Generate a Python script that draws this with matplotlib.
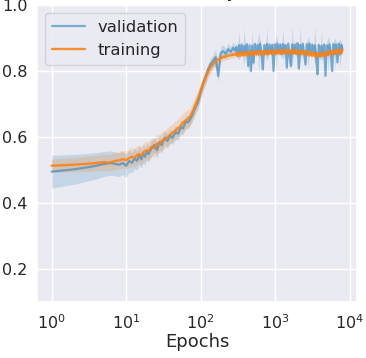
import matplotlib
matplotlib.use('Agg')
import matplotlib.pyplot as plt
import seaborn as sns
import numpy as np

# ---------------- data ----------------
epochs_early = [1, 2, 3, 4, 5, 6, 7, 8, 9, 10, 11, 12, 13, 14, 15, 16, 17, 18, 19, 20,
                22, 24, 26, 28, 30, 33, 36, 39, 42, 46, 50, 54, 58, 63, 68, 73, 79, 85, 92, 100,
                108, 117, 126, 136, 147, 159, 172, 186, 201, 217, 234, 253, 273, 290]
epochs_late = [300, 313, 326, 340, 354, 369, 384, 400, 417, 435, 453, 472, 492, 513, 534, 557,
               580, 604, 630, 656, 684, 713, 743, 774, 806, 840, 875, 912, 950, 990, 1032, 1075,
               1120, 1167, 1216, 1267, 1320, 1376, 1434, 1494, 1557, 1622, 1690, 1761, 1835, 1912,
               1992, 2076, 2163, 2254, 2349, 2448, 2551, 2658, 2770, 2886, 3007, 3133, 3265, 3402,
               3545, 3694, 3849, 4011, 4179, 4355, 4538, 4729, 4928, 5135, 5351, 5576, 5810, 6054,
               6308, 6573, 6849, 7137, 7437, 7750, 8000]

val_early = [0.495, 0.502, 0.508, 0.513, 0.518, 0.521, 0.519, 0.516, 0.521, 0.513,
             0.527, 0.522, 0.535, 0.528, 0.545, 0.532, 0.549, 0.540, 0.556, 0.548,
             0.566, 0.576, 0.560, 0.584, 0.575, 0.598, 0.588, 0.604, 0.597, 0.615,
             0.610, 0.630, 0.626, 0.646, 0.645, 0.655, 0.672, 0.690, 0.705, 0.735,
             0.762, 0.782, 0.805, 0.820, 0.830, 0.842, 0.785, 0.855, 0.860, 0.852,
             0.866, 0.858, 0.870, 0.862]
val_late = [0.872, 0.852, 0.878, 0.855, 0.880, 0.850, 0.876, 0.858, 0.881, 0.815,
            0.878, 0.800, 0.877, 0.825, 0.882, 0.853, 0.879, 0.856, 0.883, 0.850,
            0.805, 0.878, 0.855, 0.882, 0.852, 0.880, 0.857, 0.879, 0.800, 0.881,
            0.853, 0.883, 0.856, 0.880, 0.851, 0.882, 0.855, 0.879, 0.810, 0.883,
            0.850, 0.815, 0.881, 0.854, 0.880, 0.852, 0.884, 0.808, 0.879, 0.856,
            0.882, 0.852, 0.820, 0.881, 0.854, 0.883, 0.850, 0.880, 0.855, 0.878,
            0.847, 0.790, 0.879, 0.845, 0.877, 0.848, 0.880, 0.785, 0.878, 0.850,
            0.881, 0.853, 0.800, 0.882, 0.851, 0.880, 0.826, 0.883, 0.850, 0.879,
            0.866]

val_std_early = [0.050, 0.045, 0.042, 0.040, 0.038, 0.037, 0.036, 0.036, 0.035, 0.035,
                 0.034, 0.030, 0.032, 0.028, 0.030, 0.026, 0.028, 0.025, 0.026, 0.024,
                 0.024, 0.022, 0.025, 0.022, 0.024, 0.020, 0.022, 0.020, 0.021, 0.020,
                 0.020, 0.019, 0.020, 0.018, 0.020, 0.018, 0.018, 0.020, 0.018, 0.020,
                 0.018, 0.020, 0.018, 0.020, 0.018, 0.025, 0.020, 0.018, 0.020, 0.015,
                 0.018, 0.015, 0.018, 0.015]
val_std_late = [0.012, 0.010, 0.045, 0.010, 0.012, 0.010, 0.055, 0.010, 0.012, 0.010,
                0.012, 0.010, 0.050, 0.010, 0.012, 0.010, 0.012, 0.060, 0.012, 0.010,
                0.012, 0.010, 0.012, 0.050, 0.012, 0.010, 0.012, 0.010, 0.012, 0.010,
                0.055, 0.010, 0.012, 0.010, 0.012, 0.045, 0.012, 0.010, 0.012, 0.010,
                0.012, 0.010, 0.060, 0.010, 0.012, 0.010, 0.012, 0.010, 0.055, 0.010,
                0.012, 0.010, 0.012, 0.010, 0.050, 0.010, 0.012, 0.010, 0.012, 0.060,
                0.012, 0.010, 0.012, 0.010, 0.045, 0.010, 0.012, 0.010, 0.012, 0.055,
                0.012, 0.010, 0.012, 0.010, 0.050, 0.010, 0.012, 0.010, 0.045, 0.010,
                0.012]

train_early = [0.513, 0.516, 0.519, 0.521, 0.524, 0.522, 0.527, 0.529, 0.533, 0.530,
               0.536, 0.540, 0.537, 0.545, 0.548, 0.543, 0.553, 0.557, 0.560, 0.558,
               0.570, 0.566, 0.580, 0.578, 0.588, 0.592, 0.600, 0.606, 0.613, 0.620,
               0.627, 0.634, 0.644, 0.650, 0.656, 0.664, 0.680, 0.697, 0.716, 0.740,
               0.762, 0.781, 0.798, 0.811, 0.821, 0.829, 0.835, 0.839, 0.842, 0.844,
               0.846, 0.848, 0.849, 0.850]
train_late = [0.854, 0.845, 0.855, 0.846, 0.857, 0.847, 0.856, 0.848, 0.858, 0.847,
              0.859, 0.849, 0.858, 0.848, 0.860, 0.850, 0.859, 0.849, 0.861, 0.850,
              0.860, 0.851, 0.862, 0.850, 0.861, 0.852, 0.862, 0.851, 0.863, 0.852,
              0.862, 0.853, 0.863, 0.852, 0.864, 0.853, 0.863, 0.854, 0.864, 0.853,
              0.863, 0.853, 0.864, 0.854, 0.863, 0.852, 0.862, 0.853, 0.863, 0.851,
              0.861, 0.850, 0.860, 0.849, 0.859, 0.847, 0.857, 0.846, 0.856, 0.845,
              0.855, 0.844, 0.854, 0.844, 0.855, 0.845, 0.856, 0.846, 0.858, 0.848,
              0.860, 0.850, 0.862, 0.852, 0.863, 0.853, 0.864, 0.853, 0.865, 0.854,
              0.864]

train_std_early = [0.020, 0.022, 0.023, 0.024, 0.025, 0.025, 0.026, 0.026, 0.027, 0.027,
                   0.028, 0.028, 0.028, 0.028, 0.028, 0.028, 0.028, 0.028, 0.028, 0.028,
                   0.028, 0.028, 0.028, 0.028, 0.028, 0.028, 0.028, 0.028, 0.028, 0.028,
                   0.028, 0.028, 0.028, 0.028, 0.028, 0.028, 0.028, 0.027, 0.026, 0.025,
                   0.024, 0.022, 0.020, 0.018, 0.016, 0.015, 0.014, 0.013, 0.012, 0.011,
                   0.010, 0.010, 0.009, 0.009]
train_std_late = [0.008, 0.007, 0.008, 0.007, 0.008, 0.007, 0.008, 0.007, 0.008, 0.007,
                  0.008, 0.007, 0.008, 0.007, 0.008, 0.007, 0.008, 0.007, 0.008, 0.007,
                  0.008, 0.007, 0.008, 0.007, 0.008, 0.007, 0.008, 0.007, 0.008, 0.007,
                  0.008, 0.007, 0.008, 0.007, 0.008, 0.007, 0.008, 0.007, 0.008, 0.007,
                  0.008, 0.007, 0.008, 0.007, 0.008, 0.007, 0.008, 0.007, 0.008, 0.007,
                  0.008, 0.007, 0.008, 0.007, 0.008, 0.007, 0.008, 0.007, 0.008, 0.007,
                  0.008, 0.007, 0.008, 0.007, 0.008, 0.007, 0.008, 0.007, 0.008, 0.007,
                  0.008, 0.007, 0.008, 0.007, 0.008, 0.007, 0.008, 0.007, 0.008, 0.007,
                  0.008]

# ---------------- plot ----------------
sns.set_theme(style='darkgrid')
plt.rcParams['font.family'] = ['DejaVu Sans']

blue = '#1f77b4'
orange = '#ff7f0e'

x = np.array(epochs_early + epochs_late, dtype=float)
v = np.array(val_early + val_late)
vs = np.array(val_std_early + val_std_late)
t = np.array(train_early + train_late)
ts = np.array(train_std_early + train_std_late)

fig = plt.figure(figsize=(3.66, 3.58), dpi=100)
ax = fig.add_axes([37 / 366, 1 - 302 / 358, 320 / 366, 297 / 358])

ax.fill_between(x, v - vs, v + vs, color=blue, alpha=0.18, lw=0)
ax.plot(x, v, color=blue, alpha=0.55, lw=1.6, label='validation')
ax.fill_between(x, t - ts, t + ts, color=orange, alpha=0.2, lw=0)
ax.plot(x, t, color=orange, alpha=0.85, lw=1.7, label='training')

ax.set_xscale('log')
ax.set_ylim(0.1, 1.0)
ax.set_yticks([0.2, 0.4, 0.6, 0.8, 1.0])
ax.tick_params(axis='y', labelsize=11.5, length=0, pad=7)
ax.tick_params(axis='x', labelsize=11.5, length=0, pad=8)
ax.set_xlabel('Epochs', fontsize=13, labelpad=1)
ax.set_title('Accuracy', fontsize=13)
ax.legend(loc='upper left', fontsize=11.8)

fig.savefig('out.png', dpi=100)
